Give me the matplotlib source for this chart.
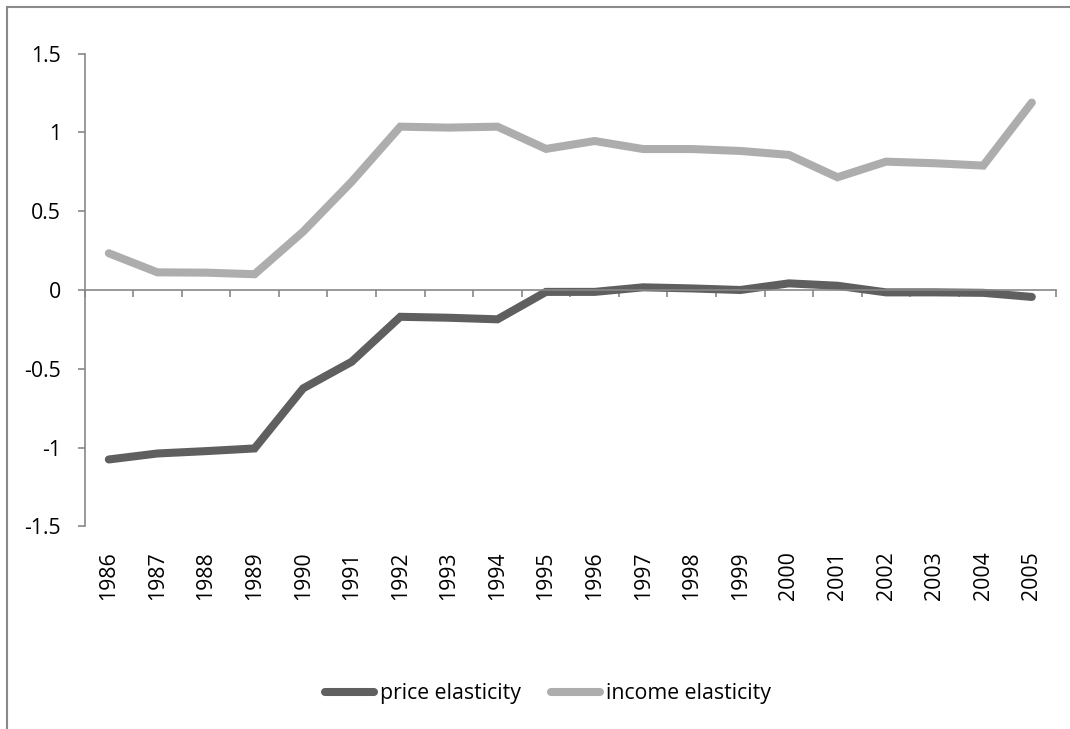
import matplotlib
matplotlib.use("Agg")
import matplotlib.pyplot as plt
from matplotlib.patches import Rectangle

plt.rcParams['font.family'] = ['Open Sans', 'DejaVu Sans']
plt.rcParams['axes.unicode_minus'] = False

# Elasticity estimates by year
years = [str(y) for y in range(1986, 2006)]
price_elasticity = [-1.075, -1.037, -1.022, -1.005, -0.624, -0.455, -0.17, -0.176, -0.186, -0.012,
                    -0.012, 0.017, 0.01, 0.0, 0.042, 0.027, -0.015, -0.015, -0.018, -0.044]
income_elasticity = [0.233, 0.112, 0.11, 0.10, 0.37, 0.687, 1.036, 1.03, 1.036, 0.895,
                     0.945, 0.894, 0.894, 0.882, 0.857, 0.715, 0.814, 0.804, 0.789, 1.189]
y_ticks = [1.5, 1, 0.5, 0, -0.5, -1, -1.5]

axis_gray = '#878787'
fs = 15.3

fig = plt.figure(figsize=(10.7, 7.29), dpi=100)
ax = fig.add_axes([0.079, 0.2778, 0.908, 0.6488])

x = list(range(len(years)))
ax.plot(x, price_elasticity, color='#5f5f5f', lw=5.8, solid_capstyle='round',
        solid_joinstyle='miter', label='price elasticity')
ax.plot(x, income_elasticity, color='#adadad', lw=5.8, solid_capstyle='round',
        solid_joinstyle='miter', label='income elasticity')

ax.set_xlim(-0.5, len(years) - 0.5)
ax.set_ylim(-1.5, 1.5)

# category axis crosses at zero, ticks between categories
ax.spines['bottom'].set_position(('data', 0))
ax.spines['top'].set_visible(False)
ax.spines['right'].set_visible(False)
for s in ('left', 'bottom'):
    ax.spines[s].set_color(axis_gray)
    ax.spines[s].set_linewidth(1.2)

ax.set_xticks([i - 0.5 for i in range(len(years) + 1)])
ax.set_xticklabels([])
ax.set_yticks(y_ticks)
ax.set_yticklabels([f'{v:g}' for v in y_ticks])
ax.tick_params(axis='both', direction='out', length=5, width=1.2, color=axis_gray)
ax.tick_params(axis='y', labelsize=fs, pad=12)

# year labels sit under the plot area, not under the zero line
for i, yr in enumerate(years):
    ax.annotate(yr, xy=(i, 0), xycoords=('data', 'axes fraction'),
                xytext=(0, -18), textcoords='offset points',
                rotation=90, ha='center', va='top', fontsize=fs)

# chart border
fig.add_artist(Rectangle((7 / 1070, -0.5), 1.5, 0.5 + 1 - 6.5 / 729,
                         transform=fig.transFigure, fill=False,
                         edgecolor='#8a8a8a', lw=1.5))

fig.legend(loc='center', bbox_to_anchor=(548 / 1070, 1 - 694 / 729), ncol=2,
           frameon=False, fontsize=fs, handlelength=2.3, handletextpad=0.3,
           columnspacing=1.4)

fig.savefig('out.png', dpi=100)
